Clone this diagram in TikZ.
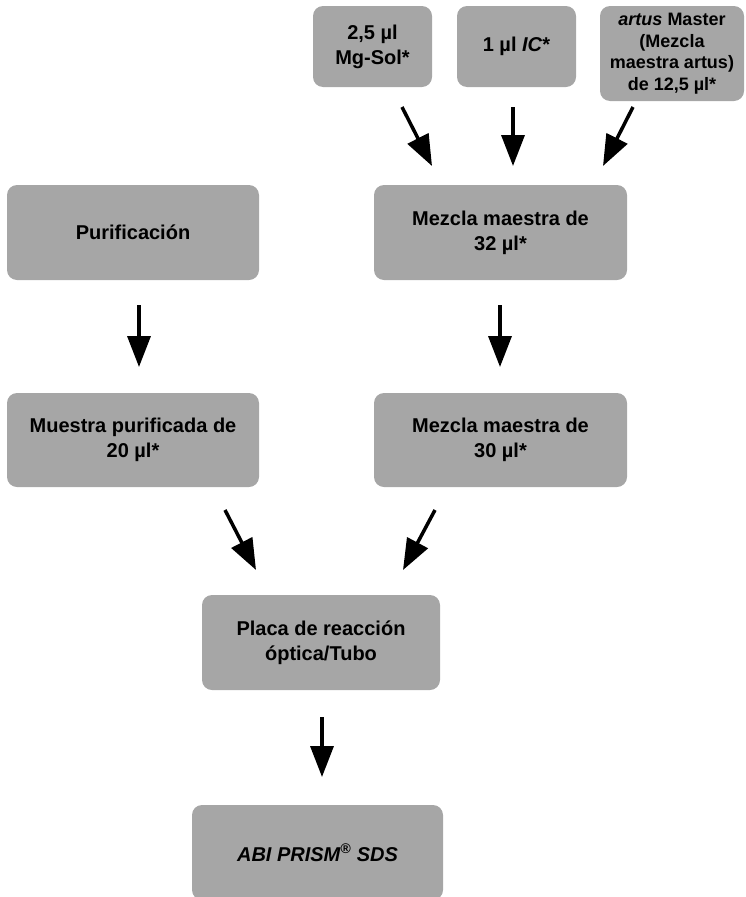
\documentclass[tikz,border=0pt]{standalone}
\usepackage{fontspec}
\setmainfont{Liberation Sans}
\usetikzlibrary{arrows.meta}
\definecolor{boxgray}{RGB}{166,166,166}
\tikzset{
  box/.style={fill=boxgray, rounded corners=10pt, inner sep=0pt, align=center,
    font=\bfseries\fontsize{20}{25}\selectfont, text=black, anchor=center},
  smallbox/.style={box, font=\bfseries\fontsize{18}{21.5}\selectfont},
  flow/.style={line width=3.5pt, -{Triangle[length=31pt,width=23pt]}}
}
\begin{document}
\begin{tikzpicture}[x=1pt,y=-1pt]
\useasboundingbox (0,0) rectangle (745,897);
% top row
\node[box, minimum width=119pt, minimum height=81pt] (mg) at (372.5,46.5) {2,5 µl\\Mg-Sol*};
\node[box, minimum width=119pt, minimum height=81pt] (ic) at (516.5,46.5) {1 µl \textit{IC}*};
\node[smallbox, minimum width=144pt, minimum height=95pt] (artus) at (672,53.5) {\textit{artus} Master\\(Mezcla\\maestra artus)\\de 12,5 µl*};
% second row
\node[box, minimum width=252pt, minimum height=95pt] (purif) at (133,232.5) {Purificación};
\node[box, minimum width=253pt, minimum height=95pt] (mez32) at (500.5,232.5) {Mezcla maestra de\\32 µl*};
% third row
\node[box, minimum width=252pt, minimum height=94pt] (muestra) at (133,440) {Muestra purificada de\\20 µl*};
\node[box, minimum width=253pt, minimum height=94pt] (mez30) at (500.5,440) {Mezcla maestra de\\30 µl*};
% fourth row
\node[box, minimum width=238pt, minimum height=95pt] (placa) at (321,642.5) {Placa de reacción\\óptica/Tubo};
% bottom
\node[box, minimum width=251pt, minimum height=95pt] (abi) at (317.5,852.5) {\textit{ABI PRISM\textsuperscript{®} SDS}};
% arrow end points
\coordinate (mgA) at (402,107);   \coordinate (mgB) at (432,166);
\coordinate (icA) at (513,107);   \coordinate (icB) at (513,166);
\coordinate (arA) at (633,107);   \coordinate (arB) at (603,166);
\coordinate (puA) at (139,305);   \coordinate (puB) at (139,367);
\coordinate (m32A) at (500,305);  \coordinate (m32B) at (500,367);
\coordinate (muA) at (225,510);   \coordinate (muB) at (256,570);
\coordinate (m30A) at (435,510);  \coordinate (m30B) at (403,570);
\coordinate (plA) at (322,717);   \coordinate (plB) at (322,777);
\draw[flow] (mgA) -- (mgB);
\draw[flow] (icA) -- (icB);
\draw[flow] (arA) -- (arB);
\draw[flow] (puA) -- (puB);
\draw[flow] (m32A) -- (m32B);
\draw[flow] (muA) -- (muB);
\draw[flow] (m30A) -- (m30B);
\draw[flow] (plA) -- (plB);
\end{tikzpicture}
\end{document}
